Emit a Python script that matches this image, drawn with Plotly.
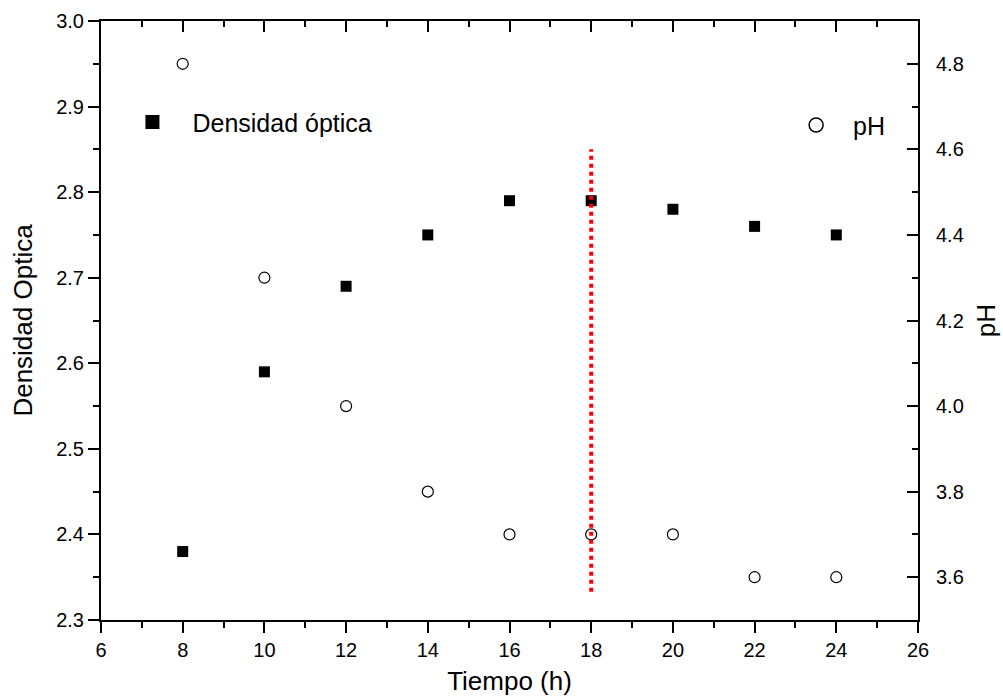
import plotly.graph_objects as go

tiempo = [8, 10, 12, 14, 16, 18, 20, 22, 24]
densidad = [2.38, 2.59, 2.69, 2.75, 2.79, 2.79, 2.78, 2.76, 2.75]
ph = [4.8, 4.3, 4.0, 3.8, 3.7, 3.7, 3.7, 3.6, 3.6]
linea_x = [18, 18]
linea_y = [2.333, 2.85]

FONT = "Liberation Sans, Arial, sans-serif"

fig = go.Figure()
fig.add_trace(go.Scatter(
    x=tiempo, y=densidad, mode="markers", name="Densidad óptica", showlegend=False,
    marker=dict(symbol="square", size=11, color="black"),
    xaxis="x", yaxis="y"))
fig.add_trace(go.Scatter(
    x=tiempo, y=ph, mode="markers", name="pH", showlegend=False,
    marker=dict(symbol="circle-open", size=11, color="black", line=dict(width=1.2)),
    xaxis="x", yaxis="y2"))
# legend entries (larger symbols, as in the reference)
fig.add_trace(go.Scatter(
    x=[None], y=[None], mode="markers", name="Densidad óptica",
    marker=dict(symbol="square", size=14, color="black"),
    xaxis="x", yaxis="y", legend="legend"))
fig.add_trace(go.Scatter(
    x=[None], y=[None], mode="markers", name="pH",
    marker=dict(symbol="circle-open", size=14, color="black", line=dict(width=1.5)),
    xaxis="x", yaxis="y2", legend="legend2"))
fig.add_trace(go.Scatter(
    x=linea_x, y=linea_y, mode="lines", showlegend=False,
    line=dict(color="red", width=4, dash="4px,4px"),
    xaxis="x2", yaxis="y"))

tickfont = dict(family=FONT, size=20, color="black")
titlefont = dict(family=FONT, size=26, color="black")

fig.update_layout(
    width=1003, height=696,
    margin=dict(l=101, r=85, t=21, b=76),
    paper_bgcolor="white", plot_bgcolor="white",
    font=dict(family=FONT, color="black"),
    xaxis=dict(range=[6, 26], dtick=2, tick0=6, showgrid=False, zeroline=False,
               showline=True, linecolor="black", linewidth=2, automargin=False,
               ticks="outside", ticklen=11, tickwidth=2, tickcolor="black",
               minor=dict(dtick=1, ticks="outside", ticklen=6, tickwidth=2, tickcolor="black"),
               tickfont=tickfont,
               title=dict(text="Tiempo (h)", font=titlefont, standoff=20)),
    xaxis2=dict(range=[6, 26], overlaying="x", side="top", dtick=2, tick0=6,
                showgrid=False, zeroline=False, showline=True, linecolor="black", linewidth=2,
                ticks="inside", ticklen=11, tickwidth=2, tickcolor="black", automargin=False,
                minor=dict(dtick=1, ticks="inside", ticklen=6, tickwidth=2, tickcolor="black"),
                showticklabels=False),
    yaxis=dict(range=[2.3, 3.0], dtick=0.1, tick0=2.3, tickformat=".1f",
               showgrid=False, zeroline=False, showline=True, linecolor="black", linewidth=2,
               ticks="outside", ticklen=11, tickwidth=2, tickcolor="black", automargin=False,
               minor=dict(dtick=0.05, ticks="outside", ticklen=6, tickwidth=2, tickcolor="black"),
               tickfont=tickfont,
               title=dict(text="Densidad Optica", font=titlefont, standoff=16)),
    yaxis2=dict(range=[3.5, 4.9], overlaying="y", side="right", dtick=0.2, tick0=3.6,
                tickformat=".1f", showgrid=False, zeroline=False, automargin=False,
                showline=True, linecolor="black", linewidth=2,
                ticks="inside", ticklen=11, tickwidth=2, tickcolor="black",
                minor=dict(dtick=0.1, ticks="inside", ticklen=6, tickwidth=2, tickcolor="black"),
                tickfont=tickfont, ticklabelstandoff=12,
                title=dict(text="pH", font=titlefont, standoff=14)),
    legend=dict(x=0.014, y=0.831, xanchor="left", yanchor="middle",
                font=dict(family=FONT, size=25, color="black"),
                bgcolor="rgba(0,0,0,0)", itemwidth=70),
    legend2=dict(x=0.83, y=0.826, xanchor="left", yanchor="middle",
                 font=dict(family=FONT, size=25, color="black"),
                 bgcolor="rgba(0,0,0,0)", itemwidth=64),
)

fig.write_html("out.html")
